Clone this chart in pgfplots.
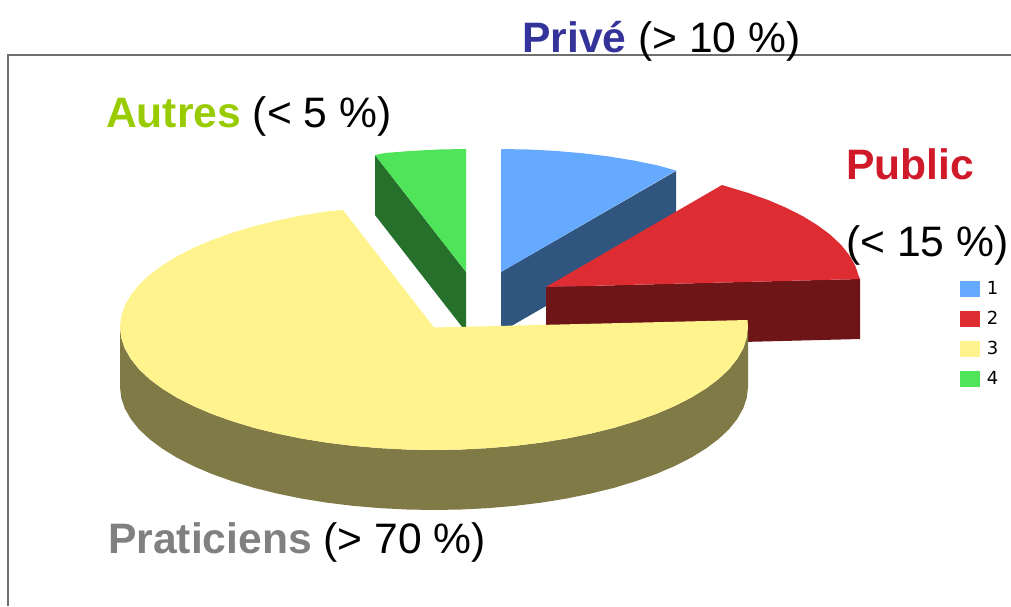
\documentclass[border=0pt]{standalone}
\usepackage{fontspec}
\setmainfont{Liberation Sans}
\newfontfamily\legfont{DejaVu Sans}
\usepackage{pgfplots}
\pgfplotsset{compat=1.18}

\definecolor{blueTop}{HTML}{66AAFF}
\definecolor{blueSide}{HTML}{305680}
\definecolor{redTop}{HTML}{DE2C33}
\definecolor{redSide}{HTML}{6E1518}
\definecolor{yellowTop}{HTML}{FFF38D}
\definecolor{yellowSide}{HTML}{807A46}
\definecolor{greenTop}{HTML}{50E45A}
\definecolor{greenSide}{HTML}{27702C}
\definecolor{prive}{HTML}{333399}
\definecolor{public}{HTML}{D01A2A}
\definecolor{autres}{HTML}{99CC00}
\definecolor{prat}{HTML}{808080}
\definecolor{frame}{HTML}{6E6E6E}

\newcommand{\labelsize}{\fontsize{42.6}{48}\selectfont}

\begin{document}
\begin{tikzpicture}
\begin{axis}[
  scale only axis,
  width=1011pt, height=606pt,
  xmin=0, xmax=1011, ymin=0, ymax=606,
  y dir=reverse,
  hide axis,
  clip=true,
  legend style={at={(0.9495,0.537)}, anchor=north west, draw=none, fill=none,
    inner sep=0pt, outer sep=0pt, row sep=14pt,
    font=\legfont\fontsize{18}{18}\selectfont,
    nodes={inner sep=0pt, outer sep=0pt},
    /tikz/every odd column/.append style={column sep=7pt}},
  legend cell align=left,
  legend image code/.code={\fill[#1] (0pt,-8pt) rectangle (20pt,8pt);},
]
% keeps the page as large as the whole axis
\path (axis cs:0,0) rectangle (axis cs:1011,606);

% frame
\addplot[frame, line width=1.5pt, forget plot] coordinates {(8,606) (8,55) (1011,55)};

% side faces
\addplot[draw=none, fill=blueSide, forget plot] coordinates {(501,272) (676,171) (676,231) (501,332)};
\addplot[draw=none, fill=greenSide, forget plot] coordinates {(375,155) (466,272) (466,332) (375,215)};
\addplot[draw=none, fill=redSide, forget plot] coordinates {(546,287) (860,279) (860,339) (546,347)};
\addplot[draw=none, fill=yellowSide, forget plot] coordinates {
  (120,327) (121.2,337.7) (124.8,348.4) (130.7,358.8) (138.9,369.1) (149.4,379)
  (162.1,388.5) (176.8,397.6) (193.5,406.1) (212,414) (232.2,421.2) (253.9,427.8)
  (277,433.5) (301.3,438.5) (326.6,442.6) (352.7,445.8) (379.5,448.1) (406.6,449.5)
  (434,450) (461.4,449.5) (488.5,448.1) (515.3,445.8) (541.4,442.6) (566.7,438.5)
  (591,433.5) (614.1,427.8) (635.8,421.2) (656,414) (674.5,406.1) (691.2,397.6)
  (705.9,388.5) (718.6,379) (729.1,369.1) (737.3,358.8) (743.2,348.4) (746.8,337.7)
  (748,327)
  (748,387) (746.8,397.7) (743.2,408.4) (737.3,418.8) (729.1,429.1) (718.6,439)
  (705.9,448.5) (691.2,457.6) (674.5,466.1) (656,474) (635.8,481.2) (614.1,487.8)
  (591,493.5) (566.7,498.5) (541.4,502.6) (515.3,505.8) (488.5,508.1) (461.4,509.5)
  (434,510) (406.6,509.5) (379.5,508.1) (352.7,505.8) (326.6,502.6) (301.3,498.5)
  (277,493.5) (253.9,487.8) (232.2,481.2) (212,474) (193.5,466.1) (176.8,457.6)
  (162.1,448.5) (149.4,439) (138.9,429.1) (130.7,418.8) (124.8,408.4) (121.2,397.7)
  (120,387)};

% top faces
\addplot[draw=none, fill=blueTop] coordinates {
  (501,272) (501,149) (528.4,149.5) (555.5,150.9) (582.3,153.2) (608.4,156.4)
  (633.7,160.5) (658,165.5) (676,170.5)};
\addplot[draw=none, fill=redTop] coordinates {
  (546,287) (722,185) (747.8,192.8) (768,200) (786.5,207.9) (803.2,216.4)
  (817.9,225.5) (830.6,235) (841.1,244.9) (849.3,255.2) (855.2,265.6) (858.8,276.3)
  (860,279)};
\addplot[draw=none, fill=yellowTop] coordinates {
  (434,327.5) (343,210) (326.6,211.4) (301.3,215.5) (277,220.5) (253.9,226.2)
  (232.2,232.8) (212,240) (193.5,247.9) (176.8,256.4) (162.1,265.5) (149.4,275)
  (138.9,284.9) (130.7,295.2) (124.8,305.6) (121.2,316.3) (120,327)
  (121.2,337.7) (124.8,348.4) (130.7,358.8) (138.9,369.1) (149.4,379)
  (162.1,388.5) (176.8,397.6) (193.5,406.1) (212,414) (232.2,421.2) (253.9,427.8)
  (277,433.5) (301.3,438.5) (326.6,442.6) (352.7,445.8) (379.5,448.1) (406.6,449.5)
  (434,450) (461.4,449.5) (488.5,448.1) (515.3,445.8) (541.4,442.6) (566.7,438.5)
  (591,433.5) (614.1,427.8) (635.8,421.2) (656,414) (674.5,406.1) (691.2,397.6)
  (705.9,388.5) (718.6,379) (729.1,369.1) (737.3,358.8) (743.2,348.4) (746.8,337.7)
  (748,327) (747.5,320)};
\addplot[draw=none, fill=greenTop] coordinates {
  (466,272) (466,149) (438.6,149.5) (411.5,150.9) (385,153) (375,155)};

\legend{1,2,3,4}

% labels
\node[anchor=base west, inner sep=0pt, font=\labelsize] at (axis cs:522,52) {\textcolor{prive}{\textbf{Privé}} (> 10 \%)};
\node[anchor=base west, inner sep=0pt, font=\labelsize] at (axis cs:106,127) {\textcolor{autres}{\textbf{Autres}} (< 5 \%)};
\node[anchor=base west, inner sep=0pt, font=\labelsize] at (axis cs:846,179) {\textcolor{public}{\textbf{Public}}};
\node[anchor=base west, inner sep=0pt, font=\labelsize] at (axis cs:846,256) {(< 15 \%)};
\node[anchor=base west, inner sep=0pt, font=\labelsize] at (axis cs:108,553) {\textcolor{prat}{\textbf{Praticiens}} (> 70 \%)};
\end{axis}
\end{tikzpicture}
\end{document}
